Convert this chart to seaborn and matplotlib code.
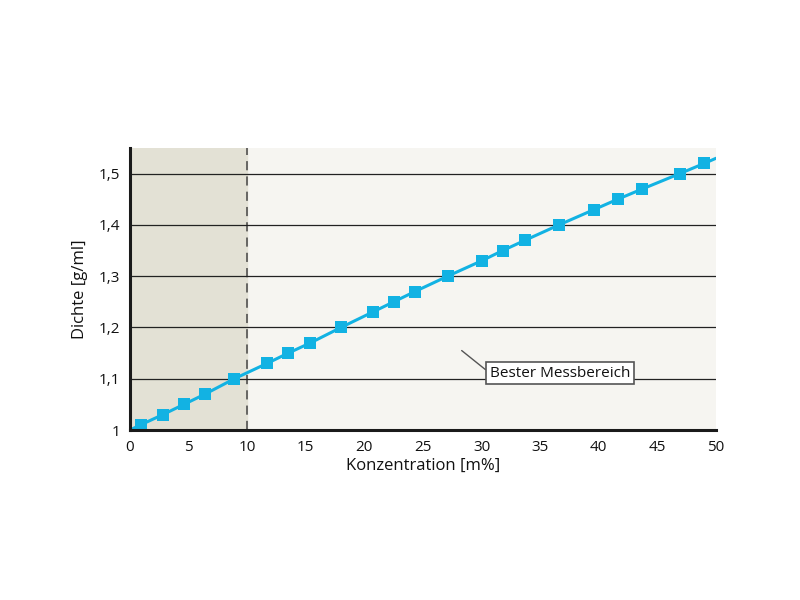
import numpy as np
import pandas as pd
import seaborn as sns
import matplotlib.pyplot as plt
from matplotlib.ticker import FixedLocator, FuncFormatter

# --- data ---
konz = [0.9, 2.8, 4.6, 6.4, 8.9, 11.7, 13.5, 15.4, 18.0, 20.7, 22.5,
        24.3, 27.1, 30.0, 31.8, 33.7, 36.6, 39.6, 41.6, 43.7, 46.9, 49.0]
dichte = [1.01, 1.03, 1.05, 1.07, 1.10, 1.13, 1.15, 1.17, 1.20, 1.23, 1.25,
          1.27, 1.30, 1.33, 1.35, 1.37, 1.40, 1.43, 1.45, 1.47, 1.50, 1.52]
# line runs past the markers to the plot edges
line_x = [0.0] + konz + [50.0]
line_y = [1.0] + dichte + [1.53]

y_ticks = [1.0, 1.1, 1.2, 1.3, 1.4, 1.5]
x_ticks = [0, 5, 10, 15, 20, 25, 30, 35, 40, 45, 50]
label_text = "Bester Messbereich"

sns.set_style("white")
plt.rcParams["font.family"] = ["Open Sans", "DejaVu Sans"]
plt.rcParams["text.color"] = "#111111"
plt.rcParams["axes.labelcolor"] = "#111111"
plt.rcParams["xtick.color"] = "#111111"
plt.rcParams["ytick.color"] = "#111111"

blue = "#12b2e3"

fig = plt.figure(figsize=(8, 6), dpi=100)
ax = fig.add_axes([0.1625, 0.2833, 0.7325, 0.47])
ax.set_facecolor("#f6f5f1")

# shaded region 0-10 m%
ax.axvspan(0, 10, color="#e3e1d5", zorder=0)
ax.axvline(10, color="#444444", lw=1.1, ls=(0, (6, 4)), zorder=1)

for yv in y_ticks[1:]:
    ax.axhline(yv, color="#222222", lw=0.9, zorder=1)

df_line = pd.DataFrame({"x": line_x, "y": line_y})
df_pts = pd.DataFrame({"x": konz, "y": dichte})
sns.lineplot(data=df_line, x="x", y="y", sort=False, color=blue, lw=2.2,
             ax=ax, zorder=3)
sns.scatterplot(data=df_pts, x="x", y="y", marker="s", s=64, color=blue,
                edgecolor=blue, linewidth=0, ax=ax, zorder=4)

ax.set_xlim(0, 50)
ax.set_ylim(1.0, 1.55)
ax.xaxis.set_major_locator(FixedLocator(x_ticks))
ax.yaxis.set_major_locator(FixedLocator(y_ticks))
ax.yaxis.set_major_formatter(FuncFormatter(
    lambda v, p: ("%g" % round(v, 1)).replace(".", ",")))
ax.tick_params(axis="both", direction="out", length=4, width=0.9,
               color="#222222", labelsize=11, pad=3)

for s in ["top", "right"]:
    ax.spines[s].set_visible(False)
for s in ["left", "bottom"]:
    ax.spines[s].set_color("#1a1a1a")
    ax.spines[s].set_linewidth(2.2)
    ax.spines[s].set_zorder(5)

ax.set_xlabel("Konzentration [m%]", fontsize=12, labelpad=2)
ax.set_ylabel("Dichte [g/ml]", fontsize=12, labelpad=8)

ax.annotate(label_text, xy=(28.3, 1.155), xytext=(30.7, 1.111),
            fontsize=11, va="center", ha="left", color="#111111",
            bbox=dict(boxstyle="square,pad=0.25", fc="white", ec="#555555", lw=1.2),
            arrowprops=dict(arrowstyle="-", color="#555555", lw=1.0,
                            shrinkA=0, shrinkB=0, relpos=(0, 0.5)),
            zorder=6)

fig.savefig("out.png", dpi=100)
